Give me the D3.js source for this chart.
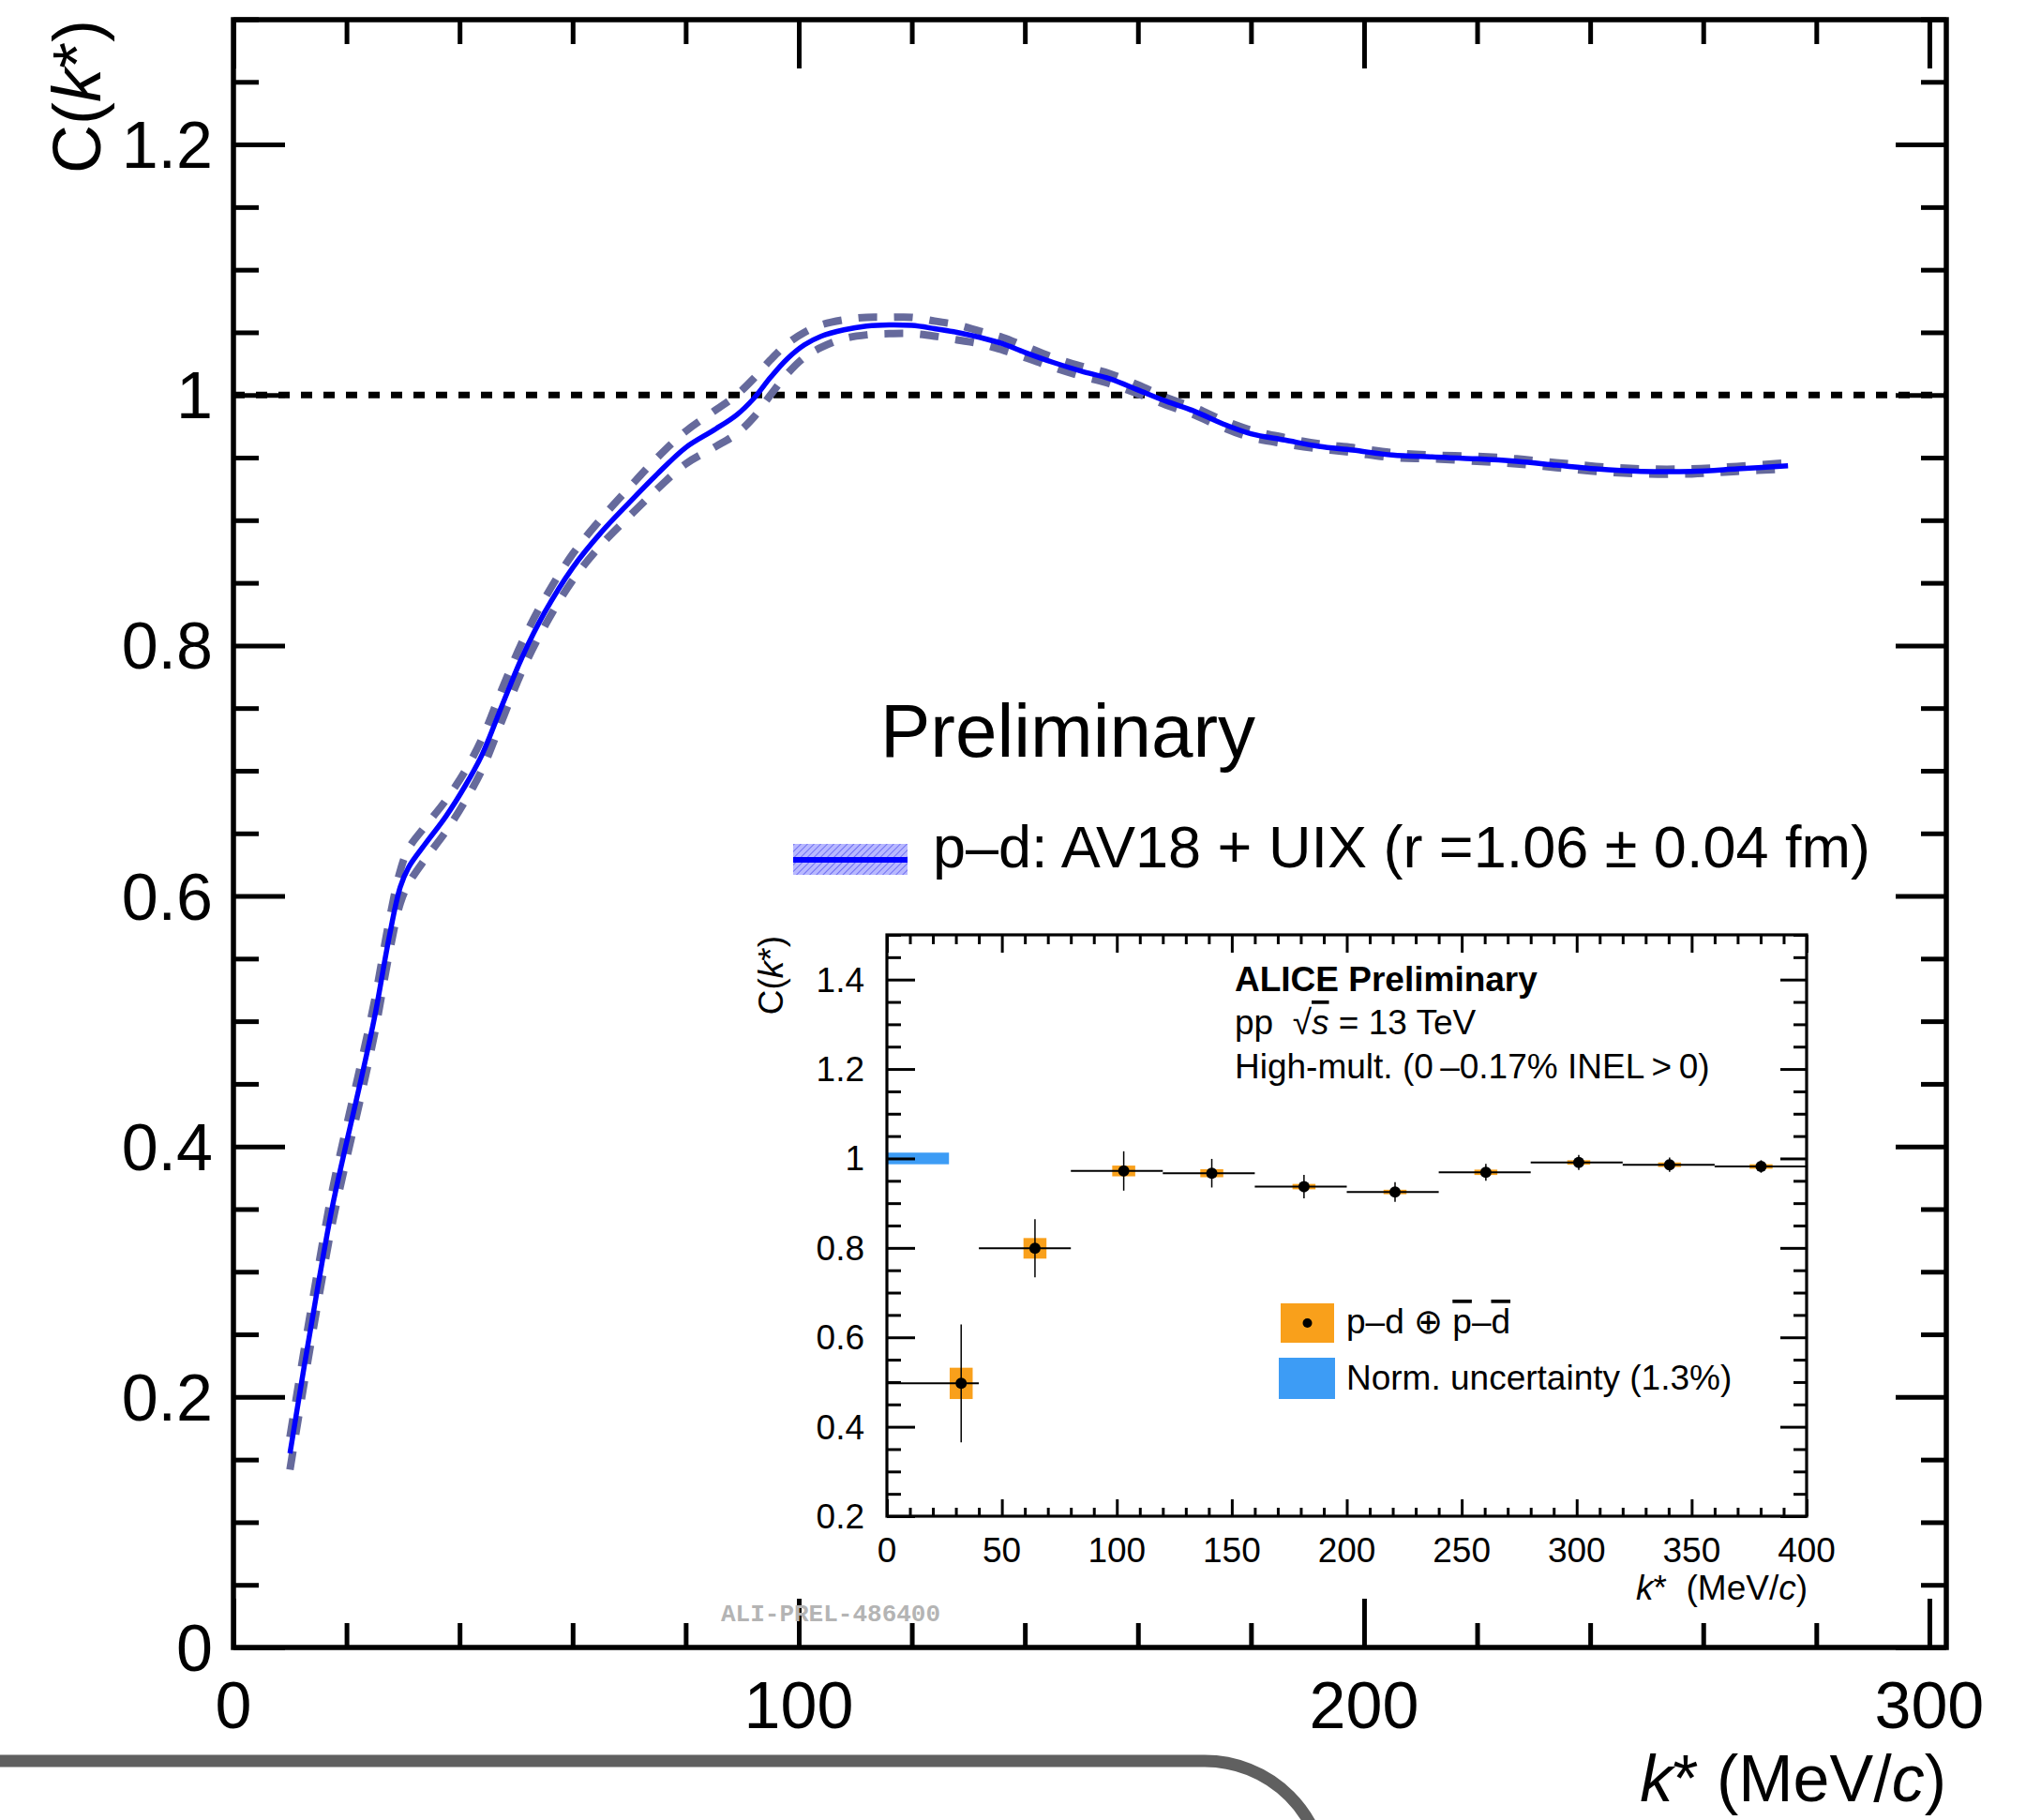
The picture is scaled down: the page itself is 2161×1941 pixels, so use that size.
<!DOCTYPE html>
<html><head><meta charset="utf-8">
<script src="https://cdn.jsdelivr.net/npm/d3@7"></script>
<style>
html,body{margin:0;padding:0;background:#fff;}
svg{display:block;}
text{font-family:"Liberation Sans",Arial,Helvetica,sans-serif;fill:#000;}
</style>
</head><body>
<svg id="c" width="2161" height="1941"></svg>
<script>
// ---------- main plot: model curve (p-d AV18+UIX) ----------
const kModel  = [10,12.5,15,17.5,20,22.5,25,27.5,29.5,31,34,37.5,41,44,47.5,51,55,60,65,70,75,80,85,89,92,95,98,101,104,108,112,116,120,124,128,132,136,140,145,150,155,160,165,170,175,180,186,192,198,205,212,220,227,234,241,249,258,266,275];
const cModel  = [0.155,0.224,0.290,0.352,0.403,0.452,0.504,0.566,0.607,0.623,0.642,0.663,0.688,0.713,0.752,0.790,0.826,0.862,0.890,0.914,0.937,0.958,0.972,0.984,0.997,1.014,1.029,1.040,1.047,1.052,1.055,1.056,1.0555,1.053,1.050,1.046,1.041,1.034,1.026,1.019,1.013,1.004,0.995,0.987,0.977,0.969,0.964,0.959,0.956,0.952,0.9505,0.949,0.947,0.944,0.941,0.939,0.939,0.941,0.9435];
const cModelUp= [0.168,0.237,0.303,0.365,0.416,0.465,0.517,0.579,0.620,0.638,0.656,0.676,0.700,0.726,0.765,0.802,0.837,0.873,0.901,0.926,0.950,0.971,0.987,1.000,1.013,1.028,1.041,1.050,1.056,1.060,1.062,1.062,1.062,1.059,1.056,1.051,1.046,1.039,1.030,1.023,1.017,1.008,0.998,0.990,0.980,0.972,0.966,0.961,0.958,0.954,0.952,0.951,0.949,0.946,0.943,0.941,0.941,0.943,0.946];
const cModelLo= [0.142,0.211,0.277,0.339,0.390,0.439,0.491,0.553,0.594,0.610,0.630,0.651,0.676,0.701,0.740,0.779,0.815,0.852,0.880,0.903,0.925,0.945,0.958,0.969,0.982,1.000,1.017,1.030,1.038,1.045,1.048,1.049,1.049,1.047,1.044,1.041,1.036,1.030,1.022,1.015,1.009,1.001,0.992,0.984,0.974,0.966,0.961,0.957,0.954,0.950,0.949,0.947,0.945,0.942,0.939,0.937,0.937,0.939,0.941];
const mainXTicks = [0,100,200,300];
const mainYTicks = [0,0.2,0.4,0.6,0.8,1,1.2];

// ---------- inset: data p-d (+) anti ----------
const binLo  = [0,40,80,120,160,200,240,280,320,360];
const binHi  = [40,80,120,160,200,240,280,320,360,400];
const kData  = [32.3,64.4,103,141.3,181.4,221,260.5,300.9,340.4,380.2];
const cData  = [0.497,0.799,0.972,0.967,0.937,0.925,0.969,0.991,0.986,0.982];
const statErr= [0.132,0.065,0.044,0.032,0.026,0.022,0.019,0.017,0.016,0.014];
const systErr= [0.035,0.023,0.012,0.009,0.006,0.005,0.006,0.005,0.005,0.005];
const normUnc = [0.013];
const normRange = [0,27];
const insetXTicks = [0,50,100,150,200,250,300,350,400];
const insetYTicks = [0.2,0.4,0.6,0.8,1,1.2,1.4];

const svg = d3.select("#c");
const defs = svg.append("defs");
const pat = defs.append("pattern").attr("id","hatch").attr("patternUnits","userSpaceOnUse")
  .attr("width",5).attr("height",5).attr("patternTransform","rotate(45)");
pat.append("rect").attr("width",5).attr("height",5).attr("fill","#b8b8ff");
pat.append("line").attr("x1",0).attr("y1",0).attr("x2",0).attr("y2",5).attr("stroke","#6f6ff2").attr("stroke-width",2);

// scales
const x = d3.scaleLinear().domain([0,303]).range([249,2076]);
const y = d3.scaleLinear().domain([0,1.3]).range([1757,20.5]);
const xi = d3.scaleLinear().domain([0,400]).range([946,1927]);
const yi = d3.scaleLinear().domain([0.2,1.5]).range([1617,997]);

function near(v,step){ return Math.abs(v/step-Math.round(v/step))<1e-6; }
function tickGroup(tr, gen, vals, size, sw){
  const g = svg.append("g").attr("transform",tr)
    .call(gen.tickValues(vals).tickSize(size).tickSizeOuter(0).tickFormat(""));
  g.select(".domain").remove();
  g.selectAll(".tick line").attr("stroke","#000").attr("stroke-width",sw);
  return g;
}

// ---------- main plot ----------
svg.append("line").attr("x1",x(0)).attr("x2",x(303)).attr("y1",y(1)).attr("y2",y(1))
  .attr("stroke","#000").attr("stroke-width",7).attr("stroke-dasharray","12 12");

const line = d3.line().curve(d3.curveCatmullRom.alpha(0.5));
const ptsUp = kModel.map((k,i)=>[x(k),y(cModelUp[i])]);
const ptsLo = kModel.map((k,i)=>[x(k),y(cModelLo[i])]);
const ptsC  = kModel.map((k,i)=>[x(k),y(cModel[i])]);
[ptsUp,ptsLo].forEach(p=>{
  svg.append("path").attr("d",line(p)).attr("fill","none").attr("stroke","#666a9c")
    .attr("stroke-width",8).attr("stroke-dasharray","20 18");
});
svg.append("path").attr("d",line(ptsC)).attr("fill","none").attr("stroke","#0000ff").attr("stroke-width",5.5);

// main ticks
const mxMinor = d3.range(0,303,20).filter(v=>!near(v,100));
const myMinor = d3.range(0,1.3001,0.05).map(v=>+v.toFixed(2)).filter(v=>!near(v,0.2));
tickGroup(`translate(0,${1757})`, d3.axisBottom(x), mainXTicks, -52, 5);
tickGroup(`translate(0,${1757})`, d3.axisBottom(x), mxMinor, -26, 5);
tickGroup(`translate(0,${21})`, d3.axisTop(x), mainXTicks, -52, 5);
tickGroup(`translate(0,${21})`, d3.axisTop(x), mxMinor, -26, 5);
tickGroup(`translate(${249},0)`, d3.axisLeft(y), mainYTicks, -55, 5);
tickGroup(`translate(${249},0)`, d3.axisLeft(y), myMinor, -27, 5);
tickGroup(`translate(${2076},0)`, d3.axisRight(y), mainYTicks, -54, 5);
tickGroup(`translate(${2076},0)`, d3.axisRight(y), myMinor, -27, 5);
svg.append("rect").attr("x",249).attr("y",21).attr("width",2076-249).attr("height",1757-21)
  .attr("fill","none").attr("stroke","#000").attr("stroke-width",5.5);

const fmtMain = d => (d===0||d===1)? String(d) : d.toFixed(1);
svg.append("g").selectAll("text").data(mainYTicks).join("text")
  .attr("x",227).attr("y",d=>y(d)+25).attr("text-anchor","end").attr("font-size",70).text(fmtMain);
svg.append("g").selectAll("text").data(mainXTicks).join("text")
  .attr("x",d=>x(d)).attr("y",1843).attr("text-anchor","middle").attr("font-size",70).text(d=>d);

// axis titles
const yt = svg.append("text").attr("transform","translate(107,21) rotate(-90)")
  .attr("text-anchor","end").attr("font-size",72);
yt.append("tspan").text("C(");
yt.append("tspan").attr("font-style","italic").text("k");
yt.append("tspan").text("*)");

const xt = svg.append("text").attr("x",2076).attr("y",1921).attr("text-anchor","end").attr("font-size",70);
xt.append("tspan").attr("font-style","italic").text("k");
xt.append("tspan").text("* (MeV/");
xt.append("tspan").attr("font-style","italic").text("c");
xt.append("tspan").text(")");

// Preliminary + legend
svg.append("text").attr("x",939).attr("y",807).attr("font-size",80).text("Preliminary");
svg.append("rect").attr("x",846).attr("y",900).attr("width",122).attr("height",33).attr("fill","url(#hatch)");
svg.append("line").attr("x1",846).attr("x2",968).attr("y1",917).attr("y2",917).attr("stroke","#0000ff").attr("stroke-width",6);
svg.append("text").attr("x",995).attr("y",925).attr("font-size",63).text("p\u2013d: AV18 + UIX (r =1.06 \u00b1 0.04 fm)");

// ---------- inset ----------
svg.append("rect").attr("x",946).attr("y",997).attr("width",1927-946).attr("height",1617-997).attr("fill","#fff");
svg.append("rect").attr("x",xi(normRange[0])).attr("width",xi(normRange[1])-xi(normRange[0]))
  .attr("y",yi(1+normUnc[0])).attr("height",yi(1-normUnc[0])-yi(1+normUnc[0])).attr("fill","#3d9cf5");
const orange = "#f9a01b";
svg.append("g").selectAll("rect").data(kData).join("rect")
  .attr("x",d=>xi(d-5)).attr("width",d=>xi(d+5)-xi(d-5))
  .attr("y",(d,i)=>yi(cData[i]+systErr[i])).attr("height",(d,i)=>yi(cData[i]-systErr[i])-yi(cData[i]+systErr[i]))
  .attr("fill",orange);
svg.append("g").selectAll("line").data(kData).join("line")
  .attr("x1",(d,i)=>xi(binLo[i])).attr("x2",(d,i)=>xi(binHi[i]))
  .attr("y1",(d,i)=>yi(cData[i])).attr("y2",(d,i)=>yi(cData[i])).attr("stroke","#000").attr("stroke-width",2);
svg.append("g").selectAll("line").data(kData).join("line")
  .attr("x1",d=>xi(d)).attr("x2",d=>xi(d))
  .attr("y1",(d,i)=>yi(cData[i]-statErr[i])).attr("y2",(d,i)=>yi(cData[i]+statErr[i])).attr("stroke","#000").attr("stroke-width",1.5);
svg.append("g").selectAll("circle").data(kData).join("circle")
  .attr("cx",d=>xi(d)).attr("cy",(d,i)=>yi(cData[i])).attr("r",6).attr("fill","#000");

const ixMinor = d3.range(0,401,10).filter(v=>!near(v,50));
const iyMinor = d3.range(0.2,1.5001,0.05).map(v=>+v.toFixed(2)).filter(v=>!near(v,0.2));
tickGroup(`translate(0,1617)`, d3.axisBottom(xi), insetXTicks, -18, 3);
tickGroup(`translate(0,1617)`, d3.axisBottom(xi), ixMinor, -9, 3);
tickGroup(`translate(0,997)`, d3.axisTop(xi), insetXTicks, -19, 3);
tickGroup(`translate(0,997)`, d3.axisTop(xi), ixMinor, -10, 3);
tickGroup(`translate(946,0)`, d3.axisLeft(yi), insetYTicks, -30, 3);
tickGroup(`translate(946,0)`, d3.axisLeft(yi), iyMinor, -15, 3);
tickGroup(`translate(1927,0)`, d3.axisRight(yi), insetYTicks, -28, 3);
tickGroup(`translate(1927,0)`, d3.axisRight(yi), iyMinor, -14, 3);
svg.append("rect").attr("x",946).attr("y",997).attr("width",1927-946).attr("height",1617-997)
  .attr("fill","none").attr("stroke","#000").attr("stroke-width",3.2);

const fmtIn = d => d===1? "1" : d.toFixed(1);
svg.append("g").selectAll("text").data(insetYTicks).join("text")
  .attr("x",922).attr("y",d=>yi(d)+13).attr("text-anchor","end").attr("font-size",37).text(fmtIn);
svg.append("g").selectAll("text").data(insetXTicks).join("text")
  .attr("x",d=>xi(d)).attr("y",1666).attr("text-anchor","middle").attr("font-size",37).text(d=>d);

const iyt = svg.append("text").attr("transform","translate(835,998) rotate(-90)").attr("text-anchor","end").attr("font-size",37);
iyt.append("tspan").text("C(");
iyt.append("tspan").attr("font-style","italic").text("k");
iyt.append("tspan").text("*)");

const ixt = svg.append("text").attr("x",1928).attr("y",1706).attr("text-anchor","end").attr("font-size",37).attr("xml:space","preserve");
ixt.append("tspan").attr("font-style","italic").text("k");
ixt.append("tspan").text("*  (MeV/");
ixt.append("tspan").attr("font-style","italic").text("c");
ixt.append("tspan").text(")");

svg.append("text").attr("x",1317).attr("y",1057).attr("font-size",37).attr("font-weight","bold").text("ALICE Preliminary");
const t2 = svg.append("text").attr("x",1317).attr("y",1103).attr("font-size",37).attr("xml:space","preserve");
t2.append("tspan").text("pp  \u221a");
t2.append("tspan").attr("font-style","italic").attr("text-decoration","overline").text("s");
t2.append("tspan").text(" = 13 TeV");
svg.append("text").attr("x",1317).attr("y",1150).attr("font-size",37).text("High-mult. (0\u2009\u20130.17% INEL\u2009>\u20090)");

svg.append("rect").attr("x",1366).attr("y",1390).attr("width",57).attr("height",42).attr("fill",orange);
svg.append("circle").attr("cx",1394.5).attr("cy",1411).attr("r",5).attr("fill","#000");
const l1 = svg.append("text").attr("x",1436).attr("y",1422).attr("font-size",37);
l1.append("tspan").text("p\u2013d \u2295 ");
l1.append("tspan").attr("text-decoration","overline").text("p");
l1.append("tspan").text("\u2013");
l1.append("tspan").attr("text-decoration","overline").text("d");
svg.append("rect").attr("x",1364).attr("y",1448).attr("width",60).attr("height",44).attr("fill","#3d9cf5");
svg.append("text").attr("x",1436).attr("y",1482).attr("font-size",37).text("Norm. uncertainty (1.3%)");

svg.append("text").attr("x",769).attr("y",1729).attr("font-size",26).attr("font-weight","bold")
  .style("font-family","'Liberation Mono','Courier New',monospace").style("fill","#b4b4b4").text("ALI-PREL-486400");

svg.append("path").attr("d","M0,1878 H1285 A128,128 0 0 1 1413,2006")
  .attr("fill","none").attr("stroke","#606060").attr("stroke-width",13);
</script>
</body></html>
